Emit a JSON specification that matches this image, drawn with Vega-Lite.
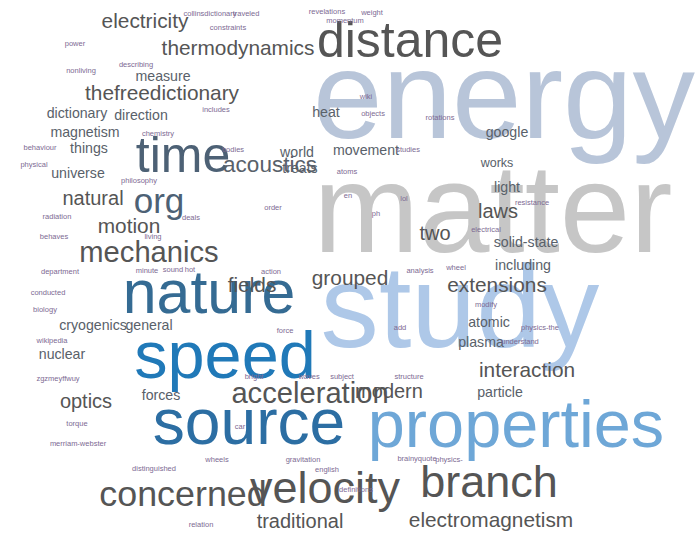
{
  "$schema": "https://vega.github.io/schema/vega-lite/v6.json",
  "width": 697,
  "height": 536,
  "padding": 0,
  "autosize": {"type": "fit", "contains": "padding"},
  "background": "white",
  "config": {"view": {"stroke": null}},
  "data": {
    "values": [
      {"word": "energy", "x": 504, "y": 138, "freq": 150, "tone": "energy"},
      {"word": "matter", "x": 493, "y": 252, "freq": 152, "tone": "matter"},
      {"word": "study", "x": 460, "y": 347, "freq": 140, "tone": "study"},
      {"word": "properties", "x": 516, "y": 447, "freq": 80, "tone": "properties"},
      {"word": "speed", "x": 225, "y": 378, "freq": 80, "tone": "speed"},
      {"word": "source", "x": 249, "y": 444, "freq": 77, "tone": "source"},
      {"word": "nature", "x": 209, "y": 313, "freq": 73, "tone": "nature"},
      {"word": "distance", "x": 410, "y": 57, "freq": 60, "tone": "dark"},
      {"word": "time", "x": 183, "y": 172, "freq": 60, "tone": "slate"},
      {"word": "velocity", "x": 325, "y": 503, "freq": 54, "tone": "dark"},
      {"word": "branch", "x": 489, "y": 497, "freq": 54, "tone": "dark"},
      {"word": "concerned", "x": 183, "y": 506, "freq": 43, "tone": "dark"},
      {"word": "org", "x": 159, "y": 213, "freq": 42, "tone": "slate"},
      {"word": "acceleration", "x": 310, "y": 403, "freq": 35, "tone": "dark"},
      {"word": "mechanics", "x": 149, "y": 262, "freq": 35, "tone": "dark"},
      {"word": "acoustics", "x": 270, "y": 172, "freq": 27, "tone": "mid"},
      {"word": "thermodynamics", "x": 238, "y": 55, "freq": 25, "tone": "dark"},
      {"word": "electricity", "x": 145, "y": 28, "freq": 25, "tone": "dark"},
      {"word": "thefreedictionary", "x": 162, "y": 100, "freq": 25, "tone": "dark"},
      {"word": "extensions", "x": 497, "y": 292, "freq": 25, "tone": "dark"},
      {"word": "grouped", "x": 350, "y": 285, "freq": 25, "tone": "dark"},
      {"word": "interaction", "x": 527, "y": 377, "freq": 25, "tone": "dark"},
      {"word": "electromagnetism", "x": 491, "y": 527, "freq": 25, "tone": "dark"},
      {"word": "motion", "x": 129, "y": 233, "freq": 25, "tone": "dark"},
      {"word": "fields", "x": 252, "y": 292, "freq": 25, "tone": "dark"},
      {"word": "natural", "x": 93, "y": 205, "freq": 24, "tone": "dark"},
      {"word": "optics", "x": 86, "y": 408, "freq": 24, "tone": "dark"},
      {"word": "laws", "x": 498, "y": 218, "freq": 24, "tone": "dark"},
      {"word": "two", "x": 435, "y": 240, "freq": 24, "tone": "dark"},
      {"word": "modern", "x": 389, "y": 398, "freq": 24, "tone": "dark"},
      {"word": "traditional", "x": 300, "y": 528, "freq": 24, "tone": "dark"},
      {"word": "measure", "x": 163, "y": 81, "freq": 17, "tone": "mid"},
      {"word": "dictionary", "x": 77, "y": 118, "freq": 17, "tone": "mid"},
      {"word": "direction", "x": 141, "y": 120, "freq": 17, "tone": "mid"},
      {"word": "magnetism", "x": 85, "y": 137, "freq": 17, "tone": "mid"},
      {"word": "things", "x": 89, "y": 153, "freq": 17, "tone": "mid"},
      {"word": "universe", "x": 78, "y": 178, "freq": 17, "tone": "mid"},
      {"word": "cryogenics", "x": 93, "y": 330, "freq": 17, "tone": "mid"},
      {"word": "general", "x": 149, "y": 330, "freq": 17, "tone": "mid"},
      {"word": "nuclear", "x": 62, "y": 359, "freq": 17, "tone": "mid"},
      {"word": "forces", "x": 161, "y": 400, "freq": 17, "tone": "mid"},
      {"word": "heat", "x": 326, "y": 117, "freq": 17, "tone": "mid"},
      {"word": "movement", "x": 366, "y": 155, "freq": 17, "tone": "mid"},
      {"word": "world", "x": 297, "y": 157, "freq": 17, "tone": "mid"},
      {"word": "treats", "x": 300, "y": 173, "freq": 17, "tone": "mid"},
      {"word": "google", "x": 507, "y": 137, "freq": 17, "tone": "mid"},
      {"word": "works", "x": 497, "y": 167, "freq": 15, "tone": "mid"},
      {"word": "light", "x": 507, "y": 192, "freq": 17, "tone": "mid"},
      {"word": "solid-state", "x": 526, "y": 247, "freq": 17, "tone": "mid"},
      {"word": "including", "x": 523, "y": 270, "freq": 17, "tone": "mid"},
      {"word": "atomic", "x": 489, "y": 327, "freq": 17, "tone": "mid"},
      {"word": "plasma", "x": 481, "y": 347, "freq": 17, "tone": "mid"},
      {"word": "particle", "x": 500, "y": 397, "freq": 17, "tone": "mid"},
      {"word": "collinsdictionary", "x": 210, "y": 16, "freq": 9, "tone": "small"},
      {"word": "traveled", "x": 246, "y": 16, "freq": 9, "tone": "small"},
      {"word": "constraints", "x": 228, "y": 30, "freq": 9, "tone": "small"},
      {"word": "revelations", "x": 327, "y": 14, "freq": 9, "tone": "small"},
      {"word": "weight", "x": 372, "y": 15, "freq": 9, "tone": "small"},
      {"word": "momentum", "x": 345, "y": 23, "freq": 9, "tone": "small"},
      {"word": "power", "x": 75, "y": 46, "freq": 9, "tone": "small"},
      {"word": "nonliving", "x": 81, "y": 73, "freq": 9, "tone": "small"},
      {"word": "describing", "x": 136, "y": 67, "freq": 9, "tone": "small"},
      {"word": "includes", "x": 216, "y": 112, "freq": 9, "tone": "small"},
      {"word": "chemistry", "x": 158, "y": 136, "freq": 9, "tone": "small"},
      {"word": "behaviour", "x": 40, "y": 150, "freq": 9, "tone": "small"},
      {"word": "physical", "x": 34, "y": 167, "freq": 9, "tone": "small"},
      {"word": "philosophy", "x": 139, "y": 183, "freq": 9, "tone": "small"},
      {"word": "bodies", "x": 233, "y": 152, "freq": 9, "tone": "small"},
      {"word": "studies", "x": 408, "y": 152, "freq": 9, "tone": "small"},
      {"word": "wiki", "x": 366, "y": 99, "freq": 9, "tone": "small"},
      {"word": "objects", "x": 373, "y": 116, "freq": 9, "tone": "small"},
      {"word": "rotations", "x": 440, "y": 120, "freq": 9, "tone": "small"},
      {"word": "atoms", "x": 347, "y": 174, "freq": 9, "tone": "small"},
      {"word": "radiation", "x": 57, "y": 219, "freq": 9, "tone": "small"},
      {"word": "deals", "x": 191, "y": 220, "freq": 9, "tone": "small"},
      {"word": "behaves", "x": 54, "y": 239, "freq": 9, "tone": "small"},
      {"word": "living", "x": 153, "y": 239, "freq": 9, "tone": "small"},
      {"word": "department", "x": 60, "y": 274, "freq": 9, "tone": "small"},
      {"word": "minute", "x": 147, "y": 273, "freq": 9, "tone": "small"},
      {"word": "sound", "x": 173, "y": 272, "freq": 9, "tone": "small"},
      {"word": "hot", "x": 190, "y": 272, "freq": 9, "tone": "small"},
      {"word": "order", "x": 273, "y": 210, "freq": 9, "tone": "small"},
      {"word": "en", "x": 348, "y": 198, "freq": 9, "tone": "small"},
      {"word": "lol", "x": 404, "y": 201, "freq": 9, "tone": "small"},
      {"word": "ph", "x": 376, "y": 216, "freq": 9, "tone": "small"},
      {"word": "resistance", "x": 532, "y": 205, "freq": 9, "tone": "small"},
      {"word": "electrical", "x": 486, "y": 232, "freq": 9, "tone": "small"},
      {"word": "analysis", "x": 420, "y": 273, "freq": 9, "tone": "small"},
      {"word": "wheel", "x": 456, "y": 270, "freq": 9, "tone": "small"},
      {"word": "action", "x": 271, "y": 274, "freq": 9, "tone": "small"},
      {"word": "force", "x": 285, "y": 333, "freq": 9, "tone": "small"},
      {"word": "add", "x": 400, "y": 330, "freq": 9, "tone": "small"},
      {"word": "modify", "x": 486, "y": 307, "freq": 9, "tone": "small"},
      {"word": "physics-the", "x": 540, "y": 330, "freq": 9, "tone": "small"},
      {"word": "understand", "x": 520, "y": 344, "freq": 9, "tone": "small"},
      {"word": "conducted", "x": 48, "y": 295, "freq": 9, "tone": "small"},
      {"word": "biology", "x": 45, "y": 312, "freq": 9, "tone": "small"},
      {"word": "wikipedia", "x": 52, "y": 343, "freq": 9, "tone": "small"},
      {"word": "zgzmeyffwuy", "x": 58, "y": 381, "freq": 9, "tone": "small"},
      {"word": "torque", "x": 77, "y": 426, "freq": 9, "tone": "small"},
      {"word": "merriam-webster", "x": 78, "y": 446, "freq": 9, "tone": "small"},
      {"word": "wheels", "x": 217, "y": 462, "freq": 9, "tone": "small"},
      {"word": "distinguished", "x": 154, "y": 471, "freq": 9, "tone": "small"},
      {"word": "relation", "x": 201, "y": 527, "freq": 9, "tone": "small"},
      {"word": "bright", "x": 254, "y": 379, "freq": 9, "tone": "small"},
      {"word": "waves", "x": 309, "y": 379, "freq": 9, "tone": "small"},
      {"word": "subject", "x": 342, "y": 379, "freq": 9, "tone": "small"},
      {"word": "structure", "x": 409, "y": 379, "freq": 9, "tone": "small"},
      {"word": "car", "x": 240, "y": 429, "freq": 9, "tone": "small"},
      {"word": "gravitation", "x": 303, "y": 462, "freq": 9, "tone": "small"},
      {"word": "english", "x": 327, "y": 472, "freq": 9, "tone": "small"},
      {"word": "definitions", "x": 356, "y": 492, "freq": 9, "tone": "small"},
      {"word": "brainyquote", "x": 417, "y": 461, "freq": 9, "tone": "small"},
      {"word": "physics-", "x": 449, "y": 462, "freq": 9, "tone": "small"}
    ]
  },
  "mark": {
    "type": "text",
    "align": "center",
    "baseline": "alphabetic",
    "font": "Liberation Sans Narrow, Arial Narrow, Liberation Sans, Arial, sans-serif",
    "clip": true
  },
  "encoding": {
    "x": {"field": "x", "type": "quantitative", "scale": {"domain": [0, 697], "nice": false, "zero": false}, "axis": null},
    "y": {"field": "y", "type": "quantitative", "scale": {"domain": [0, 536], "nice": false, "zero": false, "reverse": true}, "axis": null},
    "text": {"field": "word", "type": "nominal"},
    "size": {"field": "freq", "type": "quantitative", "scale": {"type": "linear", "domain": [0, 150], "range": [0, 125], "zero": true}, "legend": null},
    "color": {
      "field": "tone",
      "type": "nominal",
      "scale": {
        "domain": ["energy", "matter", "study", "properties", "speed", "source", "nature", "slate", "dark", "mid", "small"],
        "range": ["#b8c5d9", "#c6c6c6", "#aec8e8", "#6ea7d7", "#2079b8", "#2c6ea3", "#356b93", "#4d6175", "#555555", "#59616a", "#7d6a93"]
      },
      "legend": null
    }
  }
}
